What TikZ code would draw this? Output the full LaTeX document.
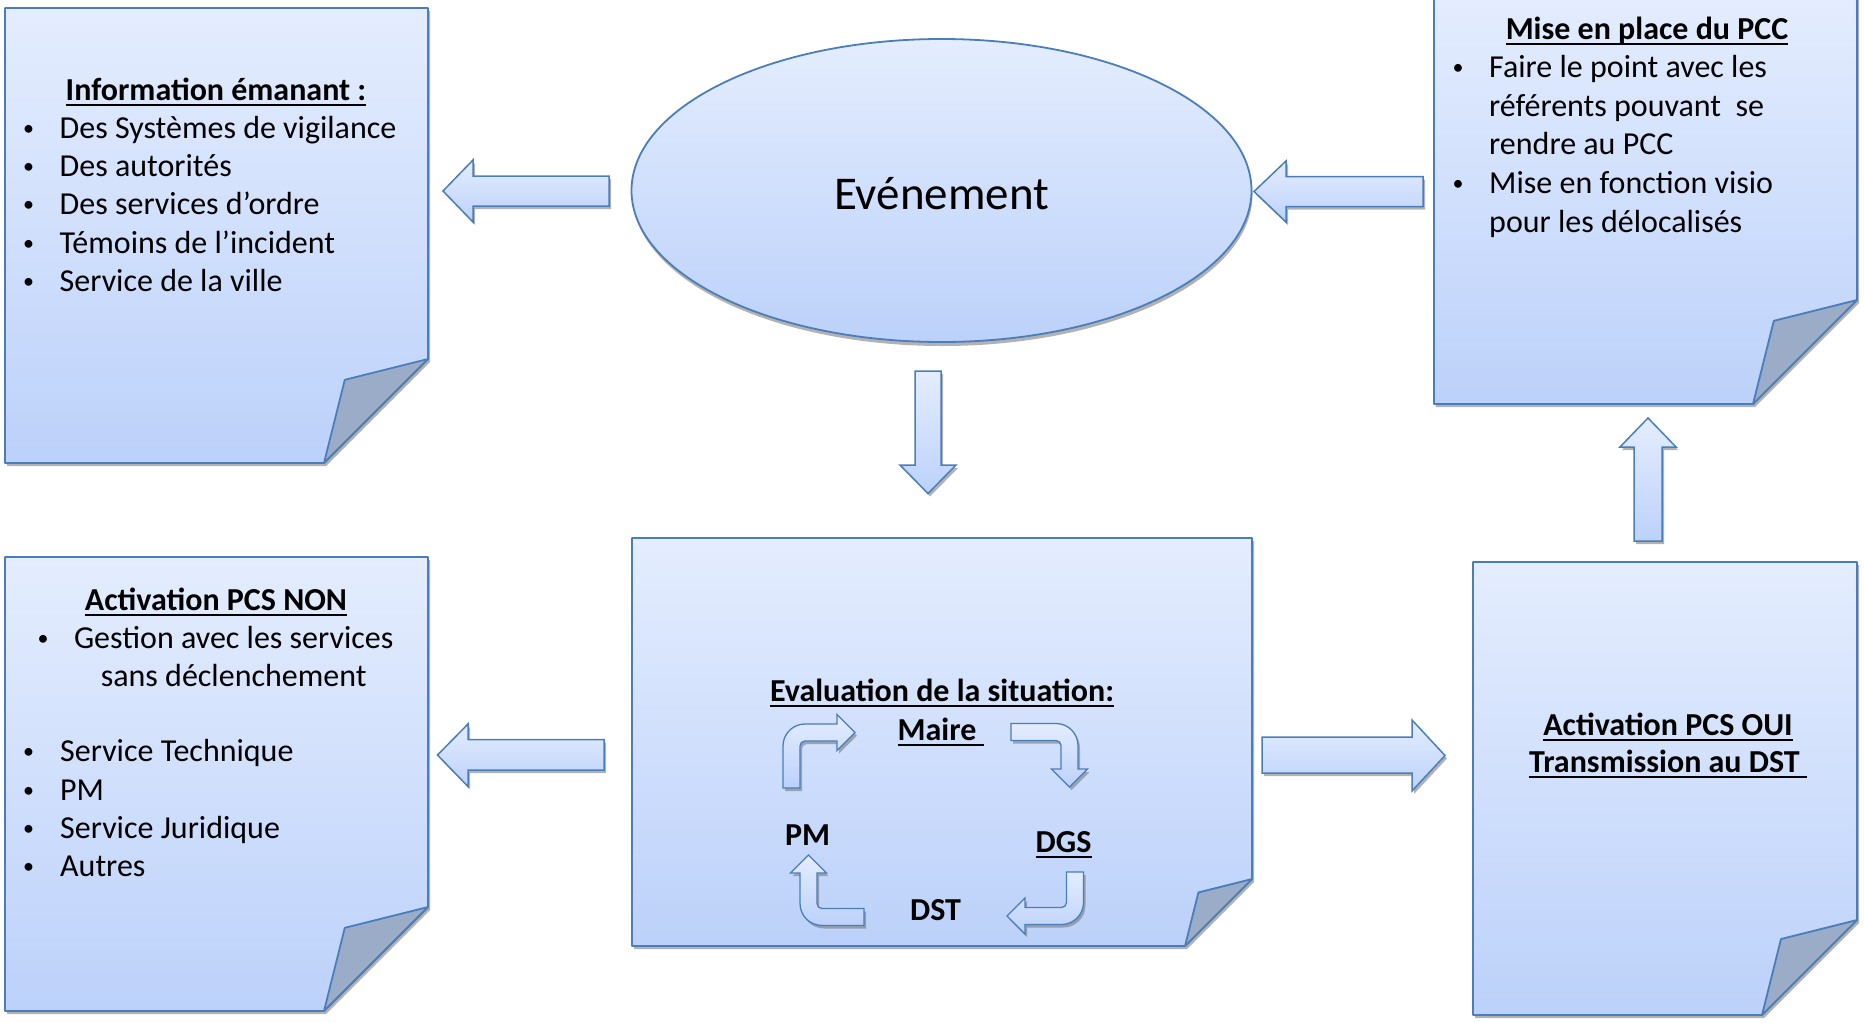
\documentclass[tikz,border=0pt]{standalone}
\usepackage{fontspec}
\setmainfont{Carlito}
\usetikzlibrary{shadows,shapes.geometric}
\definecolor{bTop}{RGB}{228,237,254}
\definecolor{bBot}{RGB}{188,209,250}
\definecolor{bLine}{RGB}{74,126,187}
\definecolor{bFold}{RGB}{155,172,200}
\newcommand\foldbox[5]{%
  \pgfmathsetmacro\fbY{#4-#5}\pgfmathsetmacro\fbX{#3-#5}%
  \pgfmathsetmacro\fiX{#3-0.8*#5}\pgfmathsetmacro\fiY{#4-0.8*#5}%
  \path[boxfill,shad] (#1,#2) -- (#3,#2) -- (#3,\fbY) -- (\fbX,#4) -- (#1,#4) -- cycle;
  \path[foldflap] (#3,\fbY) -- (\fiX,\fiY) -- (\fbX,#4) -- cycle;
}
\newcommand\smallbul{\raisebox{3pt}{\fontsize{22}{22}\selectfont\textbullet}}
\begin{document}
\begin{tikzpicture}[x=1pt,y=-1pt,
  shad/.style={drop shadow={shadow xshift=2pt,shadow yshift=-3pt,opacity=0.55,fill=black!55}},
  boxfill/.style={top color=bTop,bottom color=bBot,draw=bLine,line width=1.8pt,line join=round},
  foldflap/.style={fill=bFold,draw=bLine,line width=1.8pt,line join=round},
  arr/.style={top color=bTop,bottom color=bBot,draw=bLine,line width=1.5pt,line join=miter,shad},
  body/.style={inner sep=0pt,anchor=base west,font=\fontsize{32}{38.4}\selectfont},
  bodyc/.style={body,anchor=base},
  bul/.style={inner sep=0pt,anchor=base,font=\fontsize{32}{38.4}\selectfont},
  head/.style={inner sep=0pt,anchor=base,font=\fontsize{32}{38.4}\selectfont\bfseries},
  headw/.style={head,anchor=base west},
  ul/.style={append after command={([yshift=-4.5pt]\tikzlastnode.base west) edge[draw=black,line width=2pt] ([yshift=-4.5pt]\tikzlastnode.base east)}},
]
\useasboundingbox (0,0) rectangle (1864,1023);

% ---------- boxes ----------
\foldbox{5}{8}{428}{463}{104}
\foldbox{1434}{-6}{1857}{404}{104}
\foldbox{632}{538}{1252}{946}{67}
\foldbox{5}{557}{428}{1011}{104}
\foldbox{1473}{562}{1857}{1015}{95}

% ---------- ellipse ----------
\node[ellipse,minimum width=620pt,minimum height=303pt,inner sep=0pt,
      top color=bTop,bottom color=bBot,draw=bLine,line width=1.8pt,
      drop shadow={shadow xshift=1pt,shadow yshift=-4pt,opacity=0.55,fill=black!55}] (ev) at (941.5,190.5) {};
\node[inner sep=0pt,anchor=base,font=\fontsize{47}{56}\selectfont] (evt) at (941.5,209) {Evénement};

% ---------- block arrows ----------
% ellipse -> information (left)
\path[arr] (609,176) -- (473,176) -- (473,160) -- (443,191) -- (473,222) -- (473,206) -- (609,206) -- cycle;
% PCC -> ellipse (left)
\path[arr] (1423,176.5) -- (1286,176.5) -- (1286,161) -- (1254,191.5) -- (1286,222) -- (1286,206.5) -- (1423,206.5) -- cycle;
% ellipse -> evaluation (down)
\path[arr] (915,371) -- (941,371) -- (941,465) -- (956,465) -- (928,493.5) -- (900,465) -- (915,465) -- cycle;
% evaluation -> PCS NON (left)
\path[arr] (604,739.5) -- (468,739.5) -- (468,724) -- (437.5,755) -- (468,786.5) -- (468,770) -- (604,770) -- cycle;
% evaluation -> PCS OUI (right)
\path[arr] (1262,737) -- (1412,737) -- (1412,720) -- (1445,755.5) -- (1412,791) -- (1412,773) -- (1262,773) -- cycle;
% PCS OUI -> PCC (up)
\path[arr] (1634,541) -- (1634,447) -- (1620,447) -- (1648,418) -- (1676,447) -- (1662,447) -- (1662,541) -- cycle;

% ---------- bent arrows of the cycle ----------
\path[arr,line width=1.3pt] (783,788) -- (783,746) .. controls (783,733.85) and (792.85,724) .. (805,724)
  -- (837,724) -- (837,714.5) -- (855,732.5) -- (837,750.5) -- (837,741) -- (805,741)
  .. controls (802.24,741) and (800,743.24) .. (800,746) -- (800,788) -- cycle;
\path[arr,line width=1.3pt] (1011,723.5) -- (1056,723.5) .. controls (1068.15,723.5) and (1078,733.35) .. (1078,745.5)
  -- (1078,769) -- (1087.5,769) -- (1069.5,787) -- (1051.5,769) -- (1061,769) -- (1061,745.5)
  .. controls (1061,742.74) and (1058.76,740.5) .. (1056,740.5) -- (1011,740.5) -- cycle;
\path[arr,line width=1.3pt] (1083.5,872) -- (1083.5,902.5) .. controls (1083.5,914.65) and (1073.65,924.5) .. (1061.5,924.5)
  -- (1025,924.5) -- (1025,934) -- (1007,916) -- (1025,898) -- (1025,907.5) -- (1061.5,907.5)
  .. controls (1064.26,907.5) and (1066.5,905.26) .. (1066.5,902.5) -- (1066.5,872) -- cycle;
\path[arr,line width=1.3pt] (864,925.5) -- (822,925.5) .. controls (809.85,925.5) and (800,915.65) .. (800,903.5)
  -- (800,873) -- (790.5,873) -- (808.5,855) -- (826.5,873) -- (817,873) -- (817,903.5)
  .. controls (817,906.26) and (819.24,908.5) .. (822,908.5) -- (864,908.5) -- cycle;

% ---------- texts: information ----------
\node[head,ul] (t1) at (216,100) {Information émanant :};
\node[bul] (b11) at (28.5,138.3) {\smallbul};
\node[body] (l11) at (59.5,138.3) {Des Systèmes de vigilance};
\node[bul] (b12) at (28.5,176.6) {\smallbul};
\node[body] (l12) at (59.5,176.6) {Des autorités};
\node[bul] (b13) at (28.5,214.9) {\smallbul};
\node[body] (l13) at (59.5,214.9) {Des services d’ordre};
\node[bul] (b14) at (28.5,253.2) {\smallbul};
\node[body] (l14) at (59.5,253.2) {Témoins de l’incident};
\node[bul] (b15) at (28.5,291.5) {\smallbul};
\node[body] (l15) at (59.5,291.5) {Service de la ville};

% ---------- texts: PCC ----------
\node[head,ul] (t2) at (1647,39) {Mise en place du PCC};
\node[bul] (b21) at (1458,77.5) {\smallbul};
\node[body] (l21) at (1489,77.5) {Faire le point avec les};
\node[body] (l22) at (1489,116.2) {référents pouvant~ se};
\node[body] (l23) at (1489,154.9) {rendre au PCC};
\node[bul] (b24) at (1458,193.6) {\smallbul};
\node[body] (l24) at (1489,193.6) {Mise en fonction visio};
\node[body] (l25) at (1489,232.3) {pour les délocalisés};

% ---------- texts: evaluation ----------
\node[head,ul] (t3) at (942,701) {Evaluation de la situation:};
\node[headw,ul] (maire) at (897.5,740) {Maire\ \mbox{}};
\node[headw] (pm) at (785,845) {PM};
\node[headw,ul] (dgs) at (1035.5,852) {DGS};
\node[headw] (dst) at (910,920) {DST};

% ---------- texts: PCS NON ----------
\node[head,ul] (t4) at (216,610) {Activation PCS NON};
\node[bul] (b41) at (43,648.3) {\smallbul};
\node[bodyc] (l41) at (233.7,648.3) {Gestion avec les services};
\node[bodyc] (l42) at (233.7,686.3) {sans déclenchement};
\node[bul] (b43) at (28.5,761.7) {\smallbul};
\node[body] (l43) at (60,761.7) {Service Technique};
\node[bul] (b44) at (28.5,800) {\smallbul};
\node[body] (l44) at (60,800) {PM};
\node[bul] (b45) at (28.5,838.4) {\smallbul};
\node[body] (l45) at (60,838.4) {Service Juridique};
\node[bul] (b46) at (28.5,876.8) {\smallbul};
\node[body] (l46) at (60,876.8) {Autres};

% ---------- texts: PCS OUI ----------
\node[head,ul] (t5) at (1668,735) {Activation PCS OUI};
\node[head,ul] (t6) at (1668,772) {Transmission au DST\ \mbox{}};
\end{tikzpicture}
\end{document}
